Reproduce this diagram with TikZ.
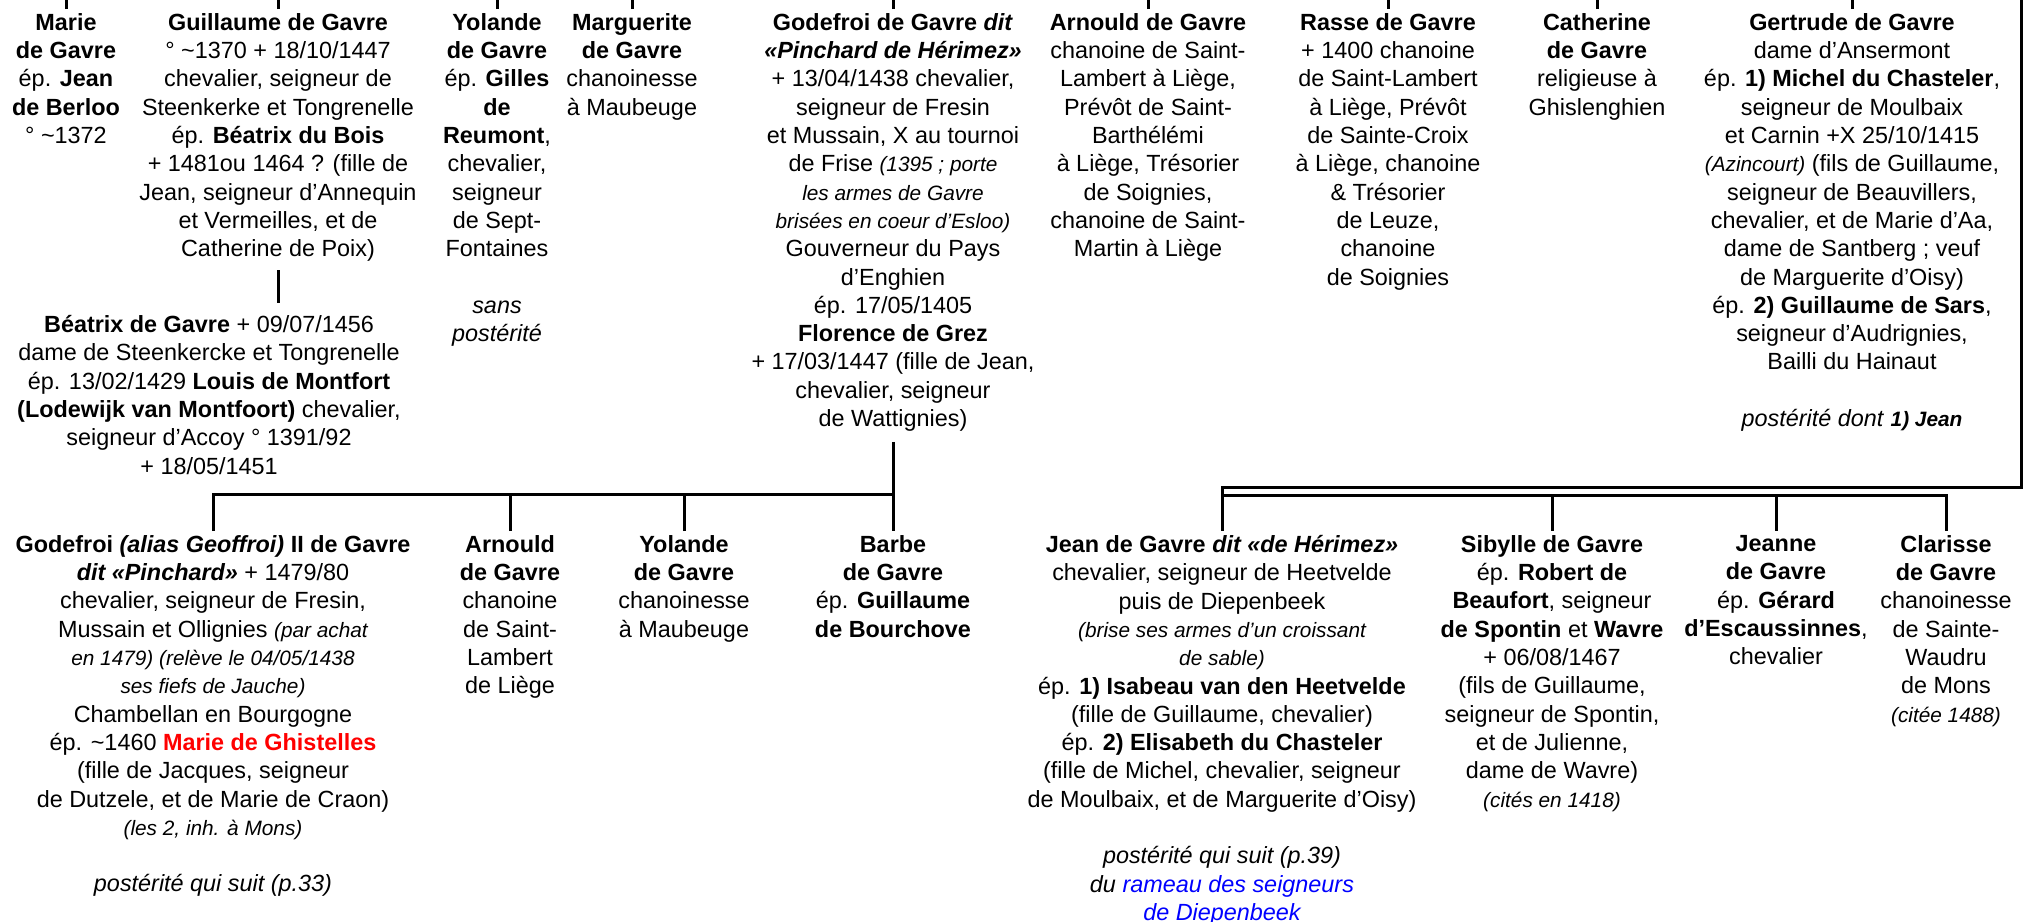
\documentclass[tikz,border=0pt]{standalone}
\usepackage{fontspec}
\setmainfont{Liberation Sans}
\usepackage{xcolor}

\newcommand{\sm}[1]{{\fontsize{10.4}{12}\selectfont\itshape #1}}
\newcommand{\ca}{\textasciitilde}

\tikzset{
  person/.style={anchor=north, align=center, inner xsep=0pt, inner ysep=2pt,
    font=\fontsize{11.7}{14.15}\selectfont},
  link/.style={line width=1.5pt}
}

\begin{document}
\begin{tikzpicture}[x=0.5pt, y=-0.5pt]
        \useasboundingbox (0,0) rectangle (2023,921);

        % first generation
        \node[person] (marie) at (66,9) {\textbf{Marie}\\\textbf{de Gavre}\\ép. \textbf{Jean}\\\textbf{de Berloo}\\° \ca1372};
        \node[person] (guillaume) at (278,9) {\textbf{Guillaume de Gavre}\\° \ca1370 + 18/10/1447\\chevalier, seigneur de\\Steenkerke et Tongrenelle\\ép. \textbf{Béatrix du Bois}\\+ 1481ou 1464 ? (fille de\\Jean, seigneur d’Annequin\\et Vermeilles, et de\\Catherine de Poix)};
        \node[person] (yolande) at (497,9) {\textbf{Yolande}\\\textbf{de Gavre}\\ép. \textbf{Gilles}\\\textbf{de}\\\textbf{Reumont},\\chevalier,\\seigneur\\de Sept-\\Fontaines\\[14.15pt]\textit{sans}\\\textit{postérité}};
        \node[person] (marguerite) at (632,9) {\textbf{Marguerite}\\\textbf{de Gavre}\\chanoinesse\\à Maubeuge};
        \node[person] (godefroi) at (893,9) {\textbf{Godefroi de Gavre \textit{dit}}\\\textbf{\textit{«Pinchard de Hérimez»}}\\+ 13/04/1438 chevalier,\\seigneur de Fresin\\et Mussain, X au tournoi\\de Frise \sm{(1395 ; porte}\\\sm{les armes de Gavre}\\\sm{brisées en coeur d’Esloo)}\\Gouverneur du Pays\\d’Enghien\\ép. 17/05/1405\\\textbf{Florence de Grez}\\+ 17/03/1447 (fille de Jean,\\chevalier, seigneur\\de Wattignies)};
        \node[person] (arnould) at (1148,9) {\textbf{Arnould de Gavre}\\chanoine de Saint-\\Lambert à Liège,\\Prévôt de Saint-\\Barthélémi\\à Liège, Trésorier\\de Soignies,\\chanoine de Saint-\\Martin à Liège};
        \node[person] (rasse) at (1388,9) {\textbf{Rasse de Gavre}\\+ 1400 chanoine\\de Saint-Lambert\\à Liège, Prévôt\\de Sainte-Croix\\à Liège, chanoine\\\& Trésorier\\de Leuze,\\chanoine\\de Soignies};
        \node[person] (catherine) at (1597,9) {\textbf{Catherine}\\\textbf{de Gavre}\\religieuse à\\Ghislenghien};
        \node[person] (gertrude) at (1852,9) {\textbf{Gertrude de Gavre}\\dame d’Ansermont\\ép. \textbf{1) Michel du Chasteler},\\seigneur de Moulbaix\\et Carnin +X 25/10/1415\\\sm{(Azincourt)} (fils de Guillaume,\\seigneur de Beauvillers,\\chevalier, et de Marie d’Aa,\\dame de Santberg ; veuf\\de Marguerite d’Oisy)\\ép. \textbf{2) Guillaume de Sars},\\seigneur d’Audrignies,\\Bailli du Hainaut\\[14.15pt]\textit{postérité dont} \sm{\textbf{1) Jean}}};

        % daughter of Guillaume
        \node[person] (beatrix) at (209,311) {\textbf{Béatrix de Gavre} + 09/07/1456\\dame de Steenkercke et Tongrenelle\\ép. 13/02/1429 \textbf{Louis de Montfort}\\\textbf{(Lodewijk van Montfoort)} chevalier,\\seigneur d’Accoy ° 1391/92\\+ 18/05/1451};

        % children of Godefroi
        \node[person] (godefroi2) at (213,531) {\textbf{Godefroi \textit{(alias Geoffroi)} II de Gavre}\\\textbf{\textit{dit «Pinchard»}} + 1479/80\\chevalier, seigneur de Fresin,\\Mussain et Ollignies \sm{(par achat}\\\sm{en 1479) (relève le 04/05/1438}\\\sm{ses fiefs de Jauche)}\\Chambellan en Bourgogne\\ép. \ca1460 \textbf{\textcolor{red}{Marie de Ghistelles}}\\(fille de Jacques, seigneur\\de Dutzele, et de Marie de Craon)\\\sm{(les 2, inh. à Mons)}\\[14.15pt]\textit{postérité qui suit (p.33)}};
        \node[person] (arnould2) at (510,531) {\textbf{Arnould}\\\textbf{de Gavre}\\chanoine\\de Saint-\\Lambert\\de Liège};
        \node[person] (yolande2) at (684,531) {\textbf{Yolande}\\\textbf{de Gavre}\\chanoinesse\\à Maubeuge};
        \node[person] (barbe) at (893,531) {\textbf{Barbe}\\\textbf{de Gavre}\\ép. \textbf{Guillaume}\\\textbf{de Bourchove}};

        % children of Gertrude
        \node[person] (jean) at (1222,531) {\textbf{Jean de Gavre \textit{dit «de Hérimez»}}\\chevalier, seigneur de Heetvelde\\puis de Diepenbeek\\\sm{(brise ses armes d’un croissant}\\\sm{de sable)}\\ép. \textbf{1) Isabeau van den Heetvelde}\\(fille de Guillaume, chevalier)\\ép. \textbf{2) Elisabeth du Chasteler}\\(fille de Michel, chevalier, seigneur\\de Moulbaix, et de Marguerite d’Oisy)\\[14.15pt]\textit{postérité qui suit (p.39)}\\\textit{du \textcolor{blue}{rameau des seigneurs}}\\\textit{\textcolor{blue}{de Diepenbeek}}};
        \node[person] (sibylle) at (1552,531) {\textbf{Sibylle de Gavre}\\ép. \textbf{Robert de}\\\textbf{Beaufort}, seigneur\\\textbf{de Spontin} et \textbf{Wavre}\\+ 06/08/1467\\(fils de Guillaume,\\seigneur de Spontin,\\et de Julienne,\\dame de Wavre)\\\sm{(cités en 1418)}};
        \node[person] (jeanne) at (1776,531) {\textbf{Jeanne}\\\textbf{de Gavre}\\ép. \textbf{Gérard}\\\textbf{d’Escaussinnes},\\chevalier};
        \node[person] (clarisse) at (1946,531) {\textbf{Clarisse}\\\textbf{de Gavre}\\chanoinesse\\de Sainte-\\Waudru\\de Mons\\\sm{(citée 1488)}};

        % bars
        \coordinate (edgeT) at (2021,0);
        \coordinate (edgeB) at (2021,487);
        \coordinate (barL) at (0,494);
        \coordinate (barR) at (0,495);

        % stubs to the generation above
        \foreach \n in {marie, guillaume, yolande, marguerite, godefroi, arnould, rasse, catherine, gertrude}
            \draw[link] (\n.north) -- (\n.north |- edgeT);

        % Guillaume to Beatrix
        \draw[link, shorten <=2pt, shorten >=4pt] (guillaume.south) -- (guillaume.south |- beatrix.north);

        % Godefroi to his children
        \draw[link, shorten <=3pt] (godefroi.south) -- (godefroi.south |- barL);
        \draw[link] (godefroi2.north) |- (barbe.north |- barL) -- (barbe.north);
        \foreach \n in {arnould2, yolande2}
            \draw[link] (\n.north) -- (\n.north |- barL);

        % Gertrude to Jean, and his sisters
        \draw[link] (edgeT) -- (edgeB) -| (jean.north);
        \draw[link] (jean.north |- barR) -| (clarisse.north);
        \foreach \n in {sibylle, jeanne}
            \draw[link] (\n.north |- barR) -- (\n.north);
\end{tikzpicture}
\end{document}
